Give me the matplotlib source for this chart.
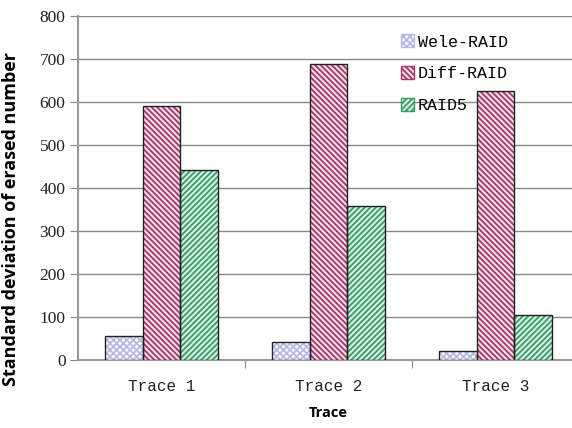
import matplotlib
matplotlib.use("Agg")
import matplotlib.pyplot as plt
import numpy as np
from matplotlib.patches import Patch

categories = ["Trace 1", "Trace 2", "Trace 3"]
series_names = ["Wele-RAID", "Diff-RAID", "RAID5"]
wele = [55, 42, 22]
diff = [590, 688, 625]
raid5 = [443, 358, 105]
yticks = [0, 100, 200, 300, 400, 500, 600, 700, 800]

plt.rcParams['hatch.linewidth'] = 1.3
fig = plt.figure(figsize=(5.72, 4.28), dpi=100)
ax = fig.add_axes([78/572, 1-360/428, (579-78)/572, (360-16)/428])

x = np.arange(len(categories))
w = 0.225
styles = [
    dict(facecolor="white", hatch="xxxxx", edgecolor="#b8b8e6"),
    dict(facecolor="#f6dce8", hatch="\\\\\\\\\\\\", edgecolor="#a03a6a"),
    dict(facecolor="#d8f0e0", hatch="//////", edgecolor="#3a9a6a"),
]
for i, (vals, st) in enumerate(zip([wele, diff, raid5], styles)):
    ax.bar(x + (i - 1) * w, vals, w, facecolor=st["facecolor"],
           hatch=st["hatch"], edgecolor=st["edgecolor"], linewidth=0, zorder=3)
    ax.bar(x + (i - 1) * w, vals, w, facecolor="none", edgecolor="#222222",
           linewidth=1.0, zorder=4)

ax.set_xlim(-0.5, 2.5)
ax.set_ylim(0, 800)
ax.set_yticks(yticks)
ax.set_yticklabels([str(t) for t in yticks], family="Liberation Serif", fontsize=12.5, color="#222222")
ax.yaxis.grid(True, color="#888888", linewidth=1.0, zorder=0)
ax.set_xticks([0.5, 1.5], minor=False)
ax.set_xticklabels([])
ax.set_xticks(x, minor=True)
ax.set_xticklabels(categories, minor=True, family="Liberation Mono", fontsize=11.5, color="#222222")
ax.tick_params(axis="x", which="minor", length=0, pad=14)
ax.tick_params(axis="x", which="major", length=6, color="#888888")
ax.tick_params(axis="y", length=6, color="#888888", pad=3)
for s in ["top", "right"]:
    ax.spines[s].set_visible(False)
for s in ["left", "bottom"]:
    ax.spines[s].set_color("#999999")
    ax.spines[s].set_linewidth(1.5)

ax.set_ylabel("Standard deviation of erased number", fontsize=13, fontweight="bold",
              family="Open Sans")
ax.set_xlabel("Trace", fontsize=10.5, fontweight="bold", family="Open Sans", labelpad=8)
ax.yaxis.set_label_coords(-0.116, 0.41)

handles = [Patch(facecolor=st["facecolor"], hatch=st["hatch"], edgecolor=st["edgecolor"]) for st in styles]
leg = ax.legend(handles, series_names, loc="upper left", bbox_to_anchor=(0.615, 0.99),
                frameon=False, prop={"family": "Liberation Mono", "size": 12},
                labelspacing=1.0, handlelength=0.8, handleheight=0.8, handletextpad=0.2)
for p in leg.get_patches():
    p.set_linewidth(1.0)

fig.savefig("out.png", dpi=100)
